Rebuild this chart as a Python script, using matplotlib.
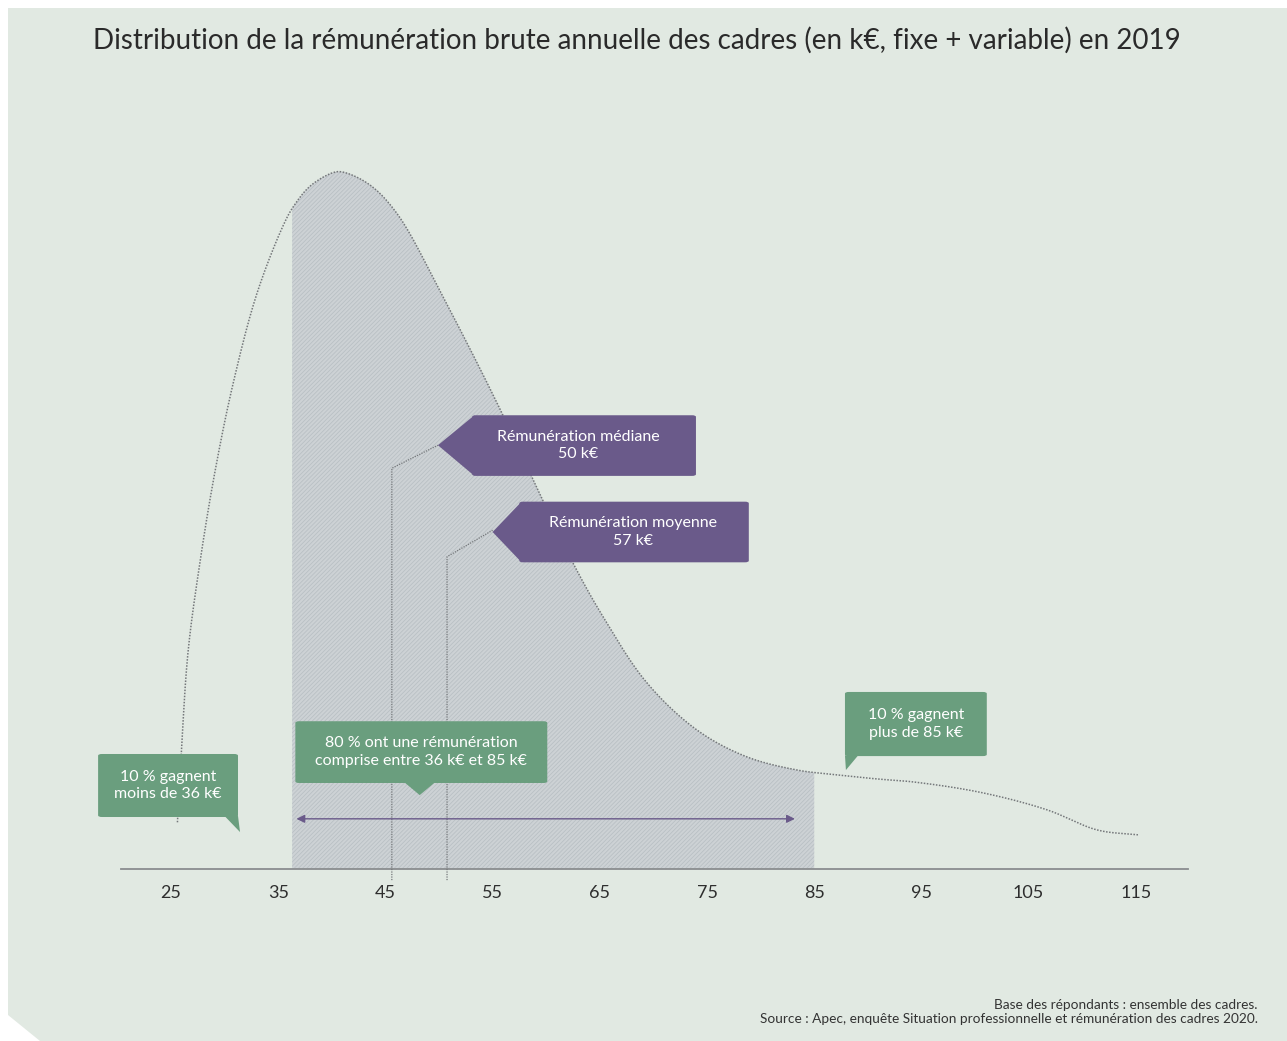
import numpy as np
import matplotlib
matplotlib.use("Agg")
import matplotlib.pyplot as plt
from matplotlib.patches import Polygon, FancyBboxPatch

plt.rcParams['font.family'] = ['Lato', 'DejaVu Sans']
plt.rcParams['hatch.linewidth'] = 0.6

# Courbe de distribution (rémunération en k€, densité relative, pic = 100)
salaire = [25.6, 26.0, 26.6, 27.7, 29.1, 30.8, 33.0, 35.4, 36.4, 38.0, 40.1, 41.0,
           43.5, 46.1, 50.4, 55.4, 59.1, 62.5, 65.3, 69.4, 74.1, 78.7, 83.4,
           86.5, 91.0, 94.2, 100.5, 106.7, 111.4, 115.2]
densite = [6.7, 17.8, 31.3, 44.0, 57.0, 69.7, 82.5, 92.1, 95.0, 98.0, 99.9, 100.0,
           98.2, 94.0, 82.0, 66.9, 54.8, 43.9, 36.2, 26.7, 19.9, 16.1, 14.2,
           13.6, 12.9, 12.5, 11.0, 8.5, 5.6, 4.9]

ticks = [25, 35, 45, 55, 65, 75, 85, 95, 105, 115]
bornes_80 = (36.3, 85.0)       # zone des 80 %
pos_mediane = 45.6             # position des repères dans le graphique d'origine
pos_moyenne = 50.75

titre = "Distribution de la rémunération brute annuelle des cadres (en k€, fixe + variable) en 2019"
note = ("Base des répondants : ensemble des cadres.\n"
        "Source : Apec, enquête Situation professionnelle et rémunération des cadres 2020.")

vert = '#6a9e7e'
violet = '#6a5a8a'
fond = '#e1e9e2'
gris = '#74777a'

# échelle px par unité (pour lisser le tracé de façon homogène)
SX, SY = 10.72, 6.97


def lisser(xs, ys, n=30):
    """Tracé lisse (Catmull-Rom centripète) passant par les points lus."""
    p = np.column_stack([np.asarray(xs) * SX, np.asarray(ys) * SY])
    p = np.vstack([2 * p[0] - p[1], p, 2 * p[-1] - p[-2]])
    out = []
    for i in range(1, len(p) - 2):
        p0, p1, p2, p3 = p[i - 1], p[i], p[i + 1], p[i + 2]
        t0 = 0
        t1 = t0 + np.linalg.norm(p1 - p0) ** 0.5
        t2 = t1 + np.linalg.norm(p2 - p1) ** 0.5
        t3 = t2 + np.linalg.norm(p3 - p2) ** 0.5
        t = np.linspace(t1, t2, n)[:, None]
        a1 = (t1 - t) / (t1 - t0) * p0 + (t - t0) / (t1 - t0) * p1
        a2 = (t2 - t) / (t2 - t1) * p1 + (t - t1) / (t2 - t1) * p2
        a3 = (t3 - t) / (t3 - t2) * p2 + (t - t2) / (t3 - t2) * p3
        b1 = (t2 - t) / (t2 - t0) * a1 + (t - t0) / (t2 - t0) * a2
        b2 = (t3 - t) / (t3 - t1) * a2 + (t - t1) / (t3 - t1) * a3
        c = (t2 - t) / (t2 - t1) * b1 + (t - t1) / (t2 - t1) * b2
        out.append(c if i == 1 else c[1:])
    out = np.vstack(out)
    return out[:, 0] / SX, out[:, 1] / SY


fig = plt.figure(figsize=(12.87, 10.41), dpi=100)
fig.patch.set_facecolor('white')

# Panneau de fond avec coin coupé en bas à gauche
W, H = 1287, 1041
panneau = [(8, 8), (W, 8), (W, H), (40, H), (8, 1015)]
fig.patches.append(Polygon([(x / W, 1 - y / H) for x, y in panneau], closed=True,
                           transform=fig.transFigure, facecolor=fond, edgecolor='none',
                           zorder=-10))

ax = fig.add_axes([0, 0, 1, 1])
ax.set_zorder(1)
ax.set_facecolor('none')
ax.set_xlim(25 - 171 / SX, 25 + (W - 171) / SX)
ax.set_ylim(-(H - 869) / SY, 869 / SY)
ax.axis('off')

cx_, cy_ = lisser(salaire, densite)

# Zone ombrée (80 %)
m = (cx_ >= bornes_80[0]) & (cx_ <= bornes_80[1])
xs = np.concatenate([[bornes_80[0]], cx_[m], [bornes_80[1]]])
ys = np.concatenate([[np.interp(bornes_80[0], cx_, cy_)], cy_[m],
                     [np.interp(bornes_80[1], cx_, cy_)]])
ax.fill_between(xs, 0, ys, facecolor='#cdd2d5', edgecolor='#b9c0c4', hatch='////////',
                linewidth=0, zorder=1)

# Courbe en pointillés
ax.plot(cx_, cy_, color=gris, lw=1.1, ls=(0, (1, 1)), zorder=3)

# Axe horizontal et graduations
ax.plot([20.3, 119.9], [0, 0], color='#8a8d8f', lw=1.3, zorder=2)
for t in ticks:
    ax.text(t, -3.4, str(t), ha='center', va='center', fontsize=13, color='#2e2e2e')

# Repères médiane et moyenne
ax.plot([pos_mediane, pos_mediane, 49.9], [-1.6, 57.5, 60.8], color=gris, lw=0.9,
        ls=(0, (1, 1)), zorder=4)
ax.plot([pos_moyenne, pos_moyenne, 55.0], [-1.6, 44.8, 48.6], color=gris, lw=0.9,
        ls=(0, (1, 1)), zorder=4)

# Flèche double 36 -> 85
ax.annotate('', xy=(36.7, 7.2), xytext=(83.2, 7.2),
            arrowprops=dict(arrowstyle='<|-|>', color=violet, lw=1.0,
                            mutation_scale=12, shrinkA=0, shrinkB=0), zorder=5)


def bulle(x0, x1, y0, y1, queue, couleur, lignes, cx=None):
    ax.add_patch(FancyBboxPatch((x0, y0), x1 - x0, y1 - y0,
                                boxstyle='round,pad=0,rounding_size=0.35',
                                mutation_aspect=0.65, facecolor=couleur,
                                edgecolor='none', zorder=6))
    ax.add_patch(Polygon(queue, closed=True, facecolor=couleur, edgecolor='none', zorder=6))
    cx = (x0 + x1) / 2 if cx is None else cx
    ax.text(cx, (y0 + y1) / 2, lignes, ha='center', va='center', fontsize=11.5,
            color='white', linespacing=1.35, zorder=7)


bulle(18.2, 31.25, 7.46, 16.5, [(30.0, 7.6), (31.25, 7.6), (31.44, 5.3)], vert,
      "10 % gagnent\nmoins de 36 k€")
bulle(36.6, 60.1, 12.34, 21.2, [(46.8, 12.4), (49.6, 12.4), (48.2, 10.6)], vert,
      "80 % ont une rémunération\ncomprise entre 36 k€ et 85 k€")
bulle(87.87, 101.1, 16.2, 25.4, [(87.87, 16.3), (89.1, 16.3), (87.96, 14.2)], vert,
      "10 % gagnent\nplus de 85 k€")

# Étiquettes violettes en forme de flèche
bulle(53.1, 73.97, 56.4, 65.1, [(53.3, 65.1), (49.9, 60.8), (53.3, 56.4)], violet,
      "Rémunération médiane\n50 k€", cx=63.0)
bulle(57.5, 78.9, 44.0, 52.7, [(57.7, 52.7), (55.0, 48.35), (57.7, 44.0)], violet,
      "Rémunération moyenne\n57 k€", cx=68.1)

# Titre et source
fig.text(93 / W, 1 - 40 / H, titre, ha='left', va='center', fontsize=20, color='#2a2a2a')
fig.text(1258 / W, 1 - 1012 / H, note, ha='right', va='center', fontsize=9.8,
         color='#333333', multialignment='right', linespacing=1.2)

fig.savefig('out.png', dpi=100, facecolor=fig.get_facecolor())
